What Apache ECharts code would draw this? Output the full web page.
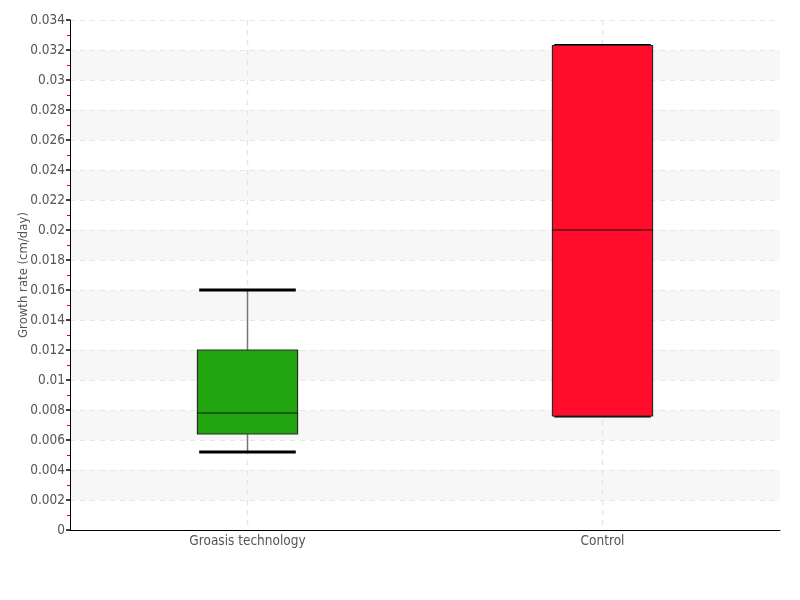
<!DOCTYPE html>
<html>
<head>
<meta charset="utf-8">
<script src="https://cdn.jsdelivr.net/npm/echarts@6/dist/echarts.min.js"></script>
<style>html,body{margin:0;padding:0;background:#fff;}#chart{width:800px;height:600px;}</style>
</head>
<body>
<div id="chart"></div>
<script>
var categories = ['Groasis technology', 'Control'];
var whiskerLow = [0.0052, 0.0076];
var quartile1 = [0.0064, 0.0076];
var medians = [0.0078, 0.0200];
var quartile3 = [0.0120, 0.0323];
var whiskerHigh = [0.0160, 0.0323];
var yAxisName = 'Growth rate (cm/day)';

var boxColors = ['#21a50f', '#ff0d2b'];
var FONT = "'Liberation Sans Narrow', 'DejaVu Sans Condensed', sans-serif";

var data = categories.map(function (c, i) {
  return [i, whiskerLow[i], quartile1[i], medians[i], quartile3[i], whiskerHigh[i]];
});

function renderItem(params, api) {
  var idx = api.value(0);
  var band = api.size([1, 0])[0];
  var boxW = band * 0.282;
  var capW = band * 0.272;
  var pLow = api.coord([idx, api.value(1)]);
  var pQ1 = api.coord([idx, api.value(2)]);
  var pMed = api.coord([idx, api.value(3)]);
  var pQ3 = api.coord([idx, api.value(4)]);
  var pHigh = api.coord([idx, api.value(5)]);
  var cx = pMed[0];
  var cs = params.coordSys;
  return {
    type: 'group',
    children: [
      { type: 'line', z2: 0, shape: { x1: cx, y1: cs.y, x2: cx, y2: cs.y + cs.height }, style: { stroke: '#e6e6e6', lineWidth: 1.5, lineDash: [5, 5] } },
      { type: 'line', shape: { x1: cx, y1: pHigh[1], x2: cx, y2: pQ3[1] }, style: { stroke: '#777', lineWidth: 1.5 } },
      { type: 'line', shape: { x1: cx, y1: pQ1[1], x2: cx, y2: pLow[1] }, style: { stroke: '#777', lineWidth: 1.5 } },
      { type: 'line', shape: { x1: cx - capW / 2, y1: pHigh[1], x2: cx + capW / 2, y2: pHigh[1] }, style: { stroke: '#000', lineWidth: 3 } },
      { type: 'line', shape: { x1: cx - capW / 2, y1: pLow[1], x2: cx + capW / 2, y2: pLow[1] }, style: { stroke: '#000', lineWidth: 3 } },
      { type: 'rect', shape: { x: cx - boxW / 2, y: pQ3[1], width: boxW, height: pQ1[1] - pQ3[1] },
        style: { fill: boxColors[idx], stroke: '#2a2a2a', lineWidth: 1.2 } },
      { type: 'line', shape: { x1: cx - boxW / 2, y1: pMed[1], x2: cx + boxW / 2, y2: pMed[1] }, style: { stroke: '#111', lineWidth: 1 } }
    ]
  };
}

var chart = echarts.init(document.getElementById('chart'), null, { renderer: 'canvas' });
chart.setOption({
  animation: false,
  backgroundColor: '#fff',
  grid: { left: 70, right: 20, top: 20, bottom: 70, containLabel: false, outerBoundsMode: 'none' },
  xAxis: {
    type: 'category',
    data: categories,
    boundaryGap: true,
    axisLine: { show: true, lineStyle: { color: '#000', width: 1 } },
    axisTick: { show: false },
    axisLabel: { color: '#555', fontSize: 13.5, fontFamily: FONT, margin: 4 },
    splitLine: { show: false }
  },
  yAxis: {
    type: 'value',
    min: 0,
    max: 0.034,
    interval: 0.002,
    name: yAxisName,
    nameLocation: 'middle',
    nameGap: 40,
    nameMoveOverlap: false,
    nameTextStyle: { color: '#555', fontSize: 13, fontFamily: FONT },
    axisLine: { show: true, lineStyle: { color: '#000', width: 1 } },
    axisTick: { show: true, length: 4, lineStyle: { color: '#000', width: 1.5 } },
    minorTick: { show: true, splitNumber: 2, length: 3, lineStyle: { color: '#d00', width: 1 } },
    axisLabel: { color: '#555', fontSize: 13.5, fontFamily: FONT, margin: 5 },
    splitLine: { show: true, lineStyle: { color: '#e6e6e6', type: [5, 5], width: 1 } },
    splitArea: { show: true, areaStyle: { color: ['rgba(255,255,255,0)', '#f7f7f7'] } }
  },
  series: [{
    type: 'custom',
    renderItem: renderItem,
    encode: { x: 0, y: [1, 2, 3, 4, 5] },
    data: data
  }]
});
</script>
</body>
</html>
